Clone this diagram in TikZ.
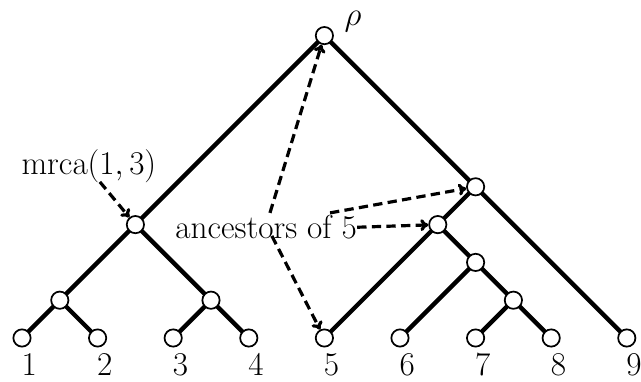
\RequirePackage{fix-cm}
\documentclass[tikz,border=0pt]{standalone}
\usetikzlibrary{arrows.meta}
\begin{document}
\begin{tikzpicture}[x=1cm,y=1cm,
  vtx/.style={circle,draw,line width=1.3pt,fill=white,minimum size=13pt,inner sep=0pt},
  edge/.style={line width=3.3pt},
  anc/.style={line width=2.4pt,dash pattern=on 7pt off 4pt,-{To[length=6pt,width=9pt]}},
  lbl/.style={font=\fontsize{25}{29}\selectfont,inner sep=0pt}]
\useasboundingbox (-0.582,-1.138) rectangle (16.376,8.942);
% edges
\coordinate (pr) at (8,8);
\coordinate (pm) at (3,3);
\coordinate (pa) at (1,1);
\coordinate (pb) at (5,1);
\coordinate (pr1) at (12,4);
\coordinate (pr2) at (11,3);
\coordinate (pr3) at (12,2);
\coordinate (pr4) at (13,1);
\foreach \i in {1,...,9} {\coordinate (p\i) at ({2*(\i-1)},0);}
\draw[edge] (pr) -- (pm) (pm) -- (pa) (pm) -- (pb)
  (pa) -- (p1) (pa) -- (p2) (pb) -- (p3) (pb) -- (p4)
  (pr) -- (pr1) (pr1) -- (pr2) (pr1) -- (p9)
  (pr2) -- (p5) (pr2) -- (pr3) (pr3) -- (p6) (pr3) -- (pr4)
  (pr4) -- (p7) (pr4) -- (p8);
% vertices
\node[vtx] (root) at (pr) {};
\node[vtx] (m) at (pm) {};
\node[vtx] (a) at (pa) {};
\node[vtx] (b) at (pb) {};
\node[vtx] (r1) at (pr1) {};
\node[vtx] (r2) at (pr2) {};
\node[vtx] (r3) at (pr3) {};
\node[vtx] (r4) at (pr4) {};
\foreach \i in {1,...,9} {
  \node[vtx] (l\i) at (p\i) {};
  \node[lbl] (t\i) at ({2*(\i-1)+0.19},-0.71) {\i};
}
% labels
\node[lbl] (rho) at (8.76,8.38) {$\rho$};
\node[lbl] (mrca) at (1.77,4.55) {$\mathrm{mrca}(1,3)$};
\node[lbl] (ancl) at (6.46,2.93) {ancestors of 5};
% dashed arrows
\coordinate (sm) at (2.06,4.13);
\coordinate (sroot) at (6.56,3.31);
\coordinate (sleaf) at (6.61,2.70);
\coordinate (sr1) at (8.15,3.31);
\draw[anc] (sm) -- (m);
\draw[anc] (sroot) -- (root);
\draw[anc] (sleaf) -- (l5);
\draw[anc] (sr1) -- (r1);
\draw[anc] (ancl.east) -- (r2);
\end{tikzpicture}
\end{document}
